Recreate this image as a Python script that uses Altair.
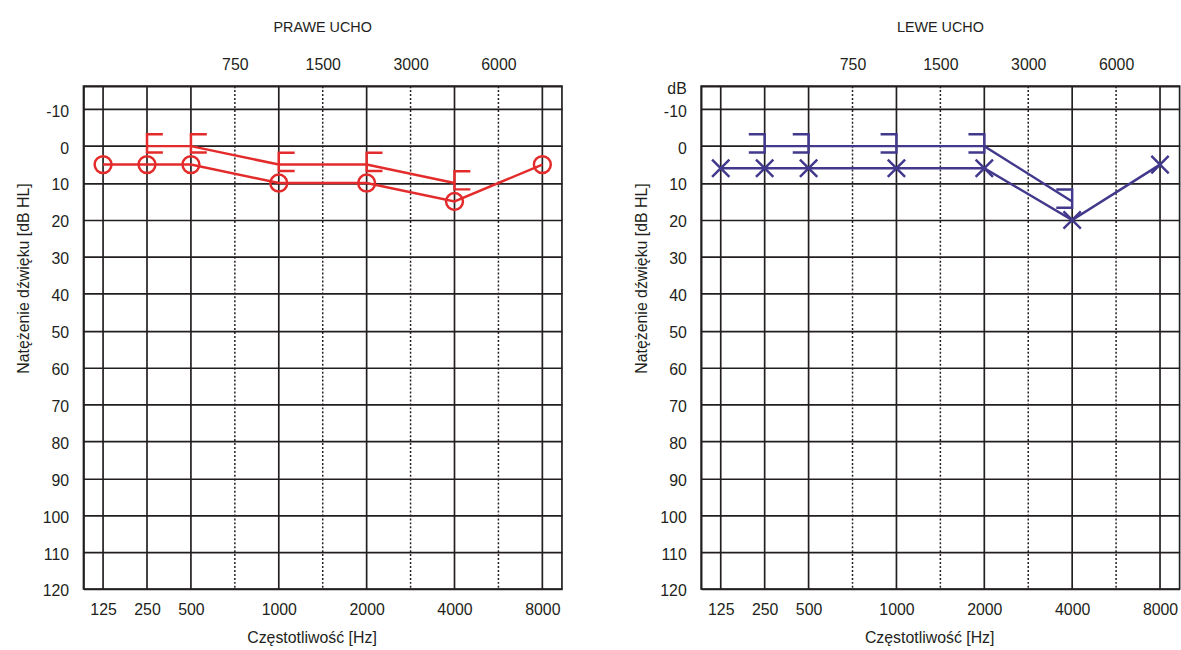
import altair as alt
import pandas as pd

FONT = "Liberation Sans, Arial, sans-serif"
INK = "#231f20"
RED = "#e42b2b"
BLUE = "#42398c"

# frequency grid (categorical positions of an audiogram)
FREQ_AXIS = ["125", "250", "500", "750", "1000", "1500", "2000", "3000", "4000", "6000", "8000"]
MAIN_FREQS = ["125", "250", "500", "1000", "2000", "4000", "8000"]
MID_FREQS = ["750", "1500", "3000", "6000"]
DB_TICKS = [-10, 0, 10, 20, 30, 40, 50, 60, 70, 80, 90, 100, 110, 120]
DB_TOP = -16.25

# right ear (red)
RIGHT_AIR_FREQ = [125, 250, 500, 1000, 2000, 4000, 8000]
RIGHT_AIR_DB = [5, 5, 5, 10, 10, 15, 5]
RIGHT_BONE_FREQ = [250, 500, 1000, 2000, 4000]
RIGHT_BONE_DB = [0, 0, 5, 5, 10]

# left ear (blue)
LEFT_AIR_FREQ = [125, 250, 500, 1000, 2000, 4000, 8000]
LEFT_AIR_DB = [6, 6, 6, 6, 6, 20, 5]
LEFT_BONE_FREQ = [250, 500, 1000, 2000, 4000]
LEFT_BONE_DB = [0, 0, 0, 0, 15]

CIRCLE = "circle"
CROSS_X = "M-1,-1L1,1M-1,1L1,-1"
BRACKET_OPEN_RIGHT = "M1,-0.75L0,-0.75L0,0.4L1,0.4"   # "["
BRACKET_OPEN_LEFT = "M-1,-0.75L0,-0.75L0,0.4L-1,0.4"  # "]"

PLOT_W = 482.6
PLOT_H = 507.2
LABEL_SIZE = 16
AXIS_TITLE_SIZE = 16
HEAD_SIZE = 14.5
GRID_W = 1.7


def make_df(freqs, dbs):
    return pd.DataFrame({"f": [str(v) for v in freqs], "hz": freqs, "db": dbs})


def panel(title, color, air_f, air_db, bone_f, bone_db, air_shape, air_size, bone_shape, show_db):
    x_scale = alt.Scale(type="point", domain=FREQ_AXIS, padding=0.446, align=0.5)
    top_label = "dB" if show_db else ""
    y_enc = alt.Y(
        "db:Q",
        scale=alt.Scale(domain=[DB_TOP, 120], reverse=True, nice=False, zero=False),
        axis=alt.Axis(
            values=[DB_TOP] + DB_TICKS,
            labelExpr=f"datum.value < -15 ? '{top_label}' : '' + datum.value",
            title="Natężenie dźwięku [dB HL]",
            titleX=-60.5, titleY=193.5, titleBaseline="middle",
            grid=True, gridColor=INK, gridWidth=GRID_W, gridOpacity=1,
            domain=True, domainColor=INK, domainWidth=GRID_W,
            ticks=False, tickSize=0, labelPadding=15, labelOffset=2, labelOverlap=False,
        ),
    )
    bottom_axis = alt.Axis(
        orient="bottom", values=MAIN_FREQS, labelAngle=0, ticks=False, tickSize=0,
        domain=False, grid=False, labelPadding=13.2, title="Częstotliwość [Hz]",
        titleX=230, titleY=40.7, titleBaseline="top", labelOverlap=False,
    )
    top_axis = alt.Axis(
        orient="top", values=MID_FREQS, labelAngle=0, ticks=False, tickSize=0,
        domain=False, grid=False, labelPadding=14.1, title=None, labelOverlap=False,
    )
    solid = alt.Chart(pd.DataFrame({"f": MAIN_FREQS})).mark_rule(
        color=INK, strokeWidth=GRID_W
    ).encode(x=alt.X("f:O", scale=x_scale, axis=bottom_axis))
    dashed = alt.Chart(pd.DataFrame({"f": MID_FREQS})).mark_rule(
        color=INK, strokeWidth=1.5, strokeDash=[2, 2]
    ).encode(x=alt.X("f:O", scale=x_scale, axis=top_axis))

    air = make_df(air_f, air_db)
    bone = make_df(bone_f, bone_db)
    xd = alt.X("f:O", scale=x_scale, axis=None)

    air_line = alt.Chart(air).mark_line(color=color, strokeWidth=2.5).encode(
        x=xd, y=y_enc, order="hz:Q")
    bone_line = alt.Chart(bone).mark_line(color=color, strokeWidth=2.5).encode(
        x=xd, y=y_enc, order="hz:Q")
    air_pts = alt.Chart(air).mark_point(
        shape=air_shape, size=air_size, strokeWidth=2.5, color=color, filled=False, opacity=1
    ).encode(x=xd, y=y_enc)
    bone_pts = alt.Chart(bone).mark_point(
        shape=bone_shape, size=1024, strokeWidth=2.5, color=color, filled=False, opacity=1
    ).encode(x=xd, y=y_enc)

    return alt.layer(solid, dashed, air_line, bone_line, air_pts, bone_pts).resolve_axis(
        x="independent"
    ).properties(
        width=PLOT_W,
        height=PLOT_H,
        title=alt.TitleParams(
            text=title, frame="group", anchor="middle", fontSize=HEAD_SIZE, font=FONT,
            fontWeight="normal", color=INK, offset=21.3,
        ),
        view=alt.ViewBackground(stroke=INK, strokeWidth=GRID_W),
    )


left = panel("PRAWE UCHO", RED, RIGHT_AIR_FREQ, RIGHT_AIR_DB, RIGHT_BONE_FREQ, RIGHT_BONE_DB,
             CIRCLE, 290, BRACKET_OPEN_RIGHT, False)
right = panel("LEWE UCHO", BLUE, LEFT_AIR_FREQ, LEFT_AIR_DB, LEFT_BONE_FREQ, LEFT_BONE_DB,
              CROSS_X, 306, BRACKET_OPEN_LEFT, True)

chart = alt.hconcat(left, right, spacing=140, bounds="flush").properties(
    padding={"left": 14.2, "top": 16.1, "right": 0, "bottom": 0},
    background="white",
).configure_axis(
    labelFont=FONT, titleFont=FONT, labelFontSize=LABEL_SIZE, titleFontSize=AXIS_TITLE_SIZE,
    labelColor=INK, titleColor=INK, titleFontWeight="normal",
).configure_view(stroke=INK)

chart.save("out.html", embed_options={"renderer": "svg", "actions": False})
